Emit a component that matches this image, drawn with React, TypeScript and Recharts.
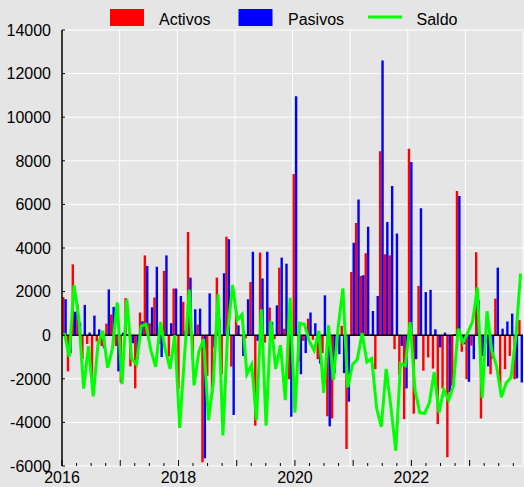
import React from 'react';
import { ComposedChart, Bar, Line, XAxis, YAxis, CartesianGrid, ReferenceLine, Legend } from 'recharts';

const YEARS = [2016, 2017, 2018, 2019, 2020, 2021, 2022, 2023];
const MONTH_NUMS = ['01', '02', '03', '04', '05', '06', '07', '08', '09', '10', '11', '12'];
const MONTHS = YEARS.flatMap((y) => MONTH_NUMS.map((mm) => `${y}-${mm}`));

const ACTIVOS = [
  1750, -1660, 3250, 1400, -1100, -400, -2000, -290, -500, 530, 950, -500,
  -2170, 1700, -1430, -2440, 1040, 3660, 550, 1730, -400, 2950, -980, 2140,
  -2470, 1530, 4730, -1100, 490, -5830, -1860, -2730, 2640, -1790, 4520, -1440,
  1100, -50, -150, 2440, -4150, 3790, -340, 1270, -180, 3100, 300, -2020,
  7400, -1200, -260, 760, -210, -1100, -820, -3720, -3820, -500, 430, -5220,
  2900, 5150, 2720, 3760, 50, -1560, 8440, 3710, 3660, -640, -1830, -3850,
  8550, -3600, 2260, -1630, -1020, -1530, -4080, -2440, -5600, -2320, 6610, -760,
  -2020, -480, 3800, -3820, -330, -1790, 1680, -2550, -1560, -950, -2020, 690,
];

const PASIVOS = [
  1650, -830, 1080, 580, 1390, 120, 900, 270, -600, 2100, 1300, -1660,
  120, 50, -370, -1100, 640, 3180, 1280, 3140, -1000, 3660, 550, 2140,
  1800, 200, 2640, 1190, 1220, -5650, 1920, -560, 760, 2840, 4400, -3660,
  450, -950, 1650, 3830, -260, 2600, 3830, 610, 1370, 3560, 3280, -3740,
  10960, -1790, -820, 1040, 550, -1300, 1830, -4180, -1740, -870, -1740, -3050,
  4240, 6230, 2750, 4980, 1110, 1800, 12600, 5190, 6840, 4670, -490, -2440,
  7940, -1100, 5820, 1980, 2080, 270, -560, 120, -2620, 50, 6380, -420,
  -2140, -1100, 1600, -950, -1430, -1070, 3100, 300, 630, 990, -1980, -2170,
];

const SALDO = [
  100, -1000, 2300, 800, -2450, -500, -2800, -400, 200, -1500, -600, 1500,
  -2250, 1650, -1080, -1340, 420, 500, -700, -1450, 600, -650, -1550, 0,
  -4250, -1000, 2090, -2300, -750, -180, -3900, -2170, 1880, -4600, 120, 2300,
  700, 950, -1800, -1350, -3900, 1190, -4150, 660, -1550, -460, -2980, 1720,
  -3550, 550, 500, -280, -700, 200, -2650, 450, -2050, 350, 2150, -2400,
  -1340, -1100, 100, -1230, -1070, -3330, -4200, -1550, -3300, -5300, -1300, -1400,
  600, -2500, -3560, -3600, -3100, -1700, -3550, -2500, -2980, -2320, 300, -340,
  120, 620, 2200, -2880, 1100, -720, -1420, -2850, -2190, -1940, -100, 2820,
];

const Y_TICKS = [-6000, -4000, -2000, 0, 2000, 4000, 6000, 8000, 10000, 12000, 14000];
const X_TICKS = [0, 3, 6, 9, 12, 15, 18, 21, 24, 27, 30, 33, 36, 39, 42, 45, 48, 51, 54, 57, 60, 63, 66, 69, 72, 75, 78, 81, 84, 87, 90, 93, 96];
const X_LABELS: Record<number, string> = { 0: '2016', 24: '2018', 48: '2020', 72: '2022' };
const YEAR_GRID = [12, 24, 36, 48, 60, 72, 84, 96];

const LEGEND_ITEMS = [
  { name: 'Activos', color: '#ff0000', kind: 'rect' },
  { name: 'Pasivos', color: '#0000ff', kind: 'rect' },
  { name: 'Saldo', color: '#00ff00', kind: 'line' },
];

const data = MONTHS.map((m, i) => ({ m, activos: ACTIVOS[i], pasivos: PASIVOS[i], saldo: SALDO[i] }));

const FONT = '"Liberation Sans", Arial, Helvetica, sans-serif';
const BG = '#e5e5e5';
const CHART_W = 524;
const CHART_H = 487;
const MARGIN = { top: 30, right: 1, bottom: 0, left: 0 };
const XAXIS_H = 21;
const PLOT_BOTTOM = CHART_H - MARGIN.bottom - XAXIS_H;

const YTick = (props: any) => {
  const { x, y, payload } = props;
  return (
    <g>
      <line x1={x} x2={x + 3} y1={y} y2={y} stroke="#000" strokeWidth={1} />
      <text x={x - 11} y={y + 5.7} textAnchor="end" fontFamily={FONT} fontSize={16} fill="#000">
        {payload.value}
      </text>
    </g>
  );
};

const XTick = (props: any) => {
  const { x, payload } = props;
  const y = PLOT_BOTTOM;
  const v = payload.value as number;
  const major = v % 12 === 0;
  const len = major ? 6 : 3;
  return (
    <g>
      <line x1={x} x2={x} y1={y} y2={y - len} stroke="#000" strokeWidth={1} />
      {X_LABELS[v] ? (
        <text x={x} y={y + 17} textAnchor="middle" fontFamily={FONT} fontSize={16} fill="#000">
          {X_LABELS[v]}
        </text>
      ) : null}
    </g>
  );
};

const LegendContent = () => {
  const xs = [110, 238.5, 368];
  const tx = [159, 288, 416.5];
  return (
    <svg width={CHART_W} height={30} style={{ display: 'block' }}>
      {LEGEND_ITEMS.map((it, i) => (
        <g key={it.name}>
          {it.kind === 'rect' ? (
            <rect x={xs[i]} y={9} width={34} height={17} fill={it.color} />
          ) : (
            <line x1={xs[i]} x2={xs[i] + 34} y1={17} y2={17} stroke={it.color} strokeWidth={3} />
          )}
          <text x={tx[i]} y={24.5} fontFamily={FONT} fontSize={16} fill="#000">
            {it.name}
          </text>
        </g>
      ))}
    </svg>
  );
};

export default function App() {
  return (
    <div style={{ position: 'absolute', left: 0, top: 0, width: CHART_W, height: CHART_H, background: BG }}>
      <ComposedChart
        width={CHART_W}
        height={CHART_H}
        data={data}
        margin={MARGIN}
        barCategoryGap={0}
        barGap={0}
      >
        <CartesianGrid
          stroke="#ffffff"
          strokeWidth={1}
          verticalCoordinatesGenerator={({ offset }: any) =>
            YEAR_GRID.map((k) => offset.left + (offset.width * k) / 96)
          }
        />
        <XAxis dataKey="m" hide />
        <XAxis
          xAxisId="num"
          type="number"
          domain={[0, 96]}
          allowDataOverflow
          ticks={X_TICKS}
          interval={0}
          height={XAXIS_H}
          axisLine={{ stroke: '#000', strokeWidth: 1.5 }}
          tickLine={false}
          tickSize={0}
          tickMargin={0}
          tick={<XTick />}
        />
        <YAxis
          width={62}
          domain={[-6000, 14000]}
          allowDataOverflow
          ticks={Y_TICKS}
          interval={0}
          axisLine={{ stroke: '#000', strokeWidth: 1.5 }}
          tickLine={false}
          tickSize={0}
          tickMargin={0}
          tick={<YTick />}
        />
        <Legend
          layout="horizontal"
          verticalAlign="middle"
          align="center"
          wrapperStyle={{ top: 0, left: 0, width: CHART_W, height: 30 }}
          content={<LegendContent />}
        />
        <Bar dataKey="activos" name="Activos" fill="#ff0000" barSize={2.4} isAnimationActive={false} />
        <Bar dataKey="pasivos" name="Pasivos" fill="#0000ff" barSize={2.4} isAnimationActive={false} />
        <ReferenceLine y={0} stroke="#000" strokeWidth={1.5} />
        <Line
          type="linear"
          dataKey="saldo"
          name="Saldo"
          stroke="#00ff00"
          strokeWidth={3}
          dot={false}
          activeDot={false}
          isAnimationActive={false}
        />
      </ComposedChart>
    </div>
  );
}
